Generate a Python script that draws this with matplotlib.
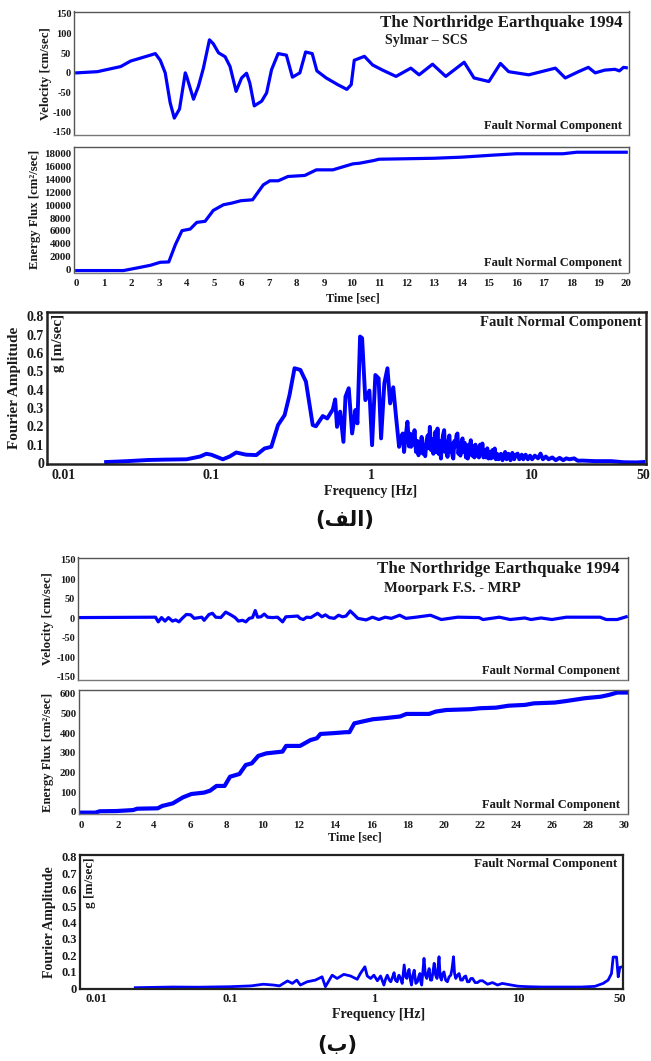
import matplotlib
matplotlib.use('Agg')
import matplotlib.pyplot as plt
from matplotlib.ticker import FixedLocator, NullLocator, FixedFormatter

plt.rcParams['axes.unicode_minus'] = False

# ---------------- data: (a) Sylmar - SCS ----------------
vel_a_t = [0.0, 0.75, 1.6, 1.96, 2.68, 2.86, 3.04, 3.22, 3.4, 3.55, 3.74, 3.95, 4.0, 4.25, 4.43,
           4.61, 4.83, 4.97, 5.16, 5.4, 5.58, 5.8, 6.0, 6.18, 6.3, 6.46, 6.73, 6.91, 7.09, 7.33,
           7.63, 7.85, 8.12, 8.33, 8.57, 8.74, 9.08, 9.5, 9.83, 9.99, 10.1, 10.47, 10.77, 11.13,
           11.62, 12.16, 12.46, 12.95, 13.43, 14.1, 14.46, 15.0, 15.42, 15.72, 16.45, 17.42,
           17.78, 18.26, 18.62, 18.87, 19.22, 19.59, 19.75, 19.9, 20.0]
vel_a_v = [0, 3, 16, 30, 45, 49, 32, 0, -76, -115, -92, 0, -9, -67, -34,
           12, 84, 74, 51, 41, 16, -47, -13, -1, -26, -84, -72, -51, 8, 49,
           45, -11, 0, 53, 49, 5, -13, -30, -42, -30, 32, 42, 20, 7,
           -9, 12, -5, 22, -9, 27, -13, -22, 24, 3, -5, 12,
           -13, 3, 14, 0, 7, 9, 5, 14, 13]

en_a_t = [0.0, 1.7, 2.2, 2.68, 3.04, 3.35, 3.59, 3.83, 4.13, 4.37, 4.67, 4.97, 5.34, 5.64, 5.97,
          6.4, 6.79, 7.03, 7.33, 7.69, 8.3, 8.72, 9.32, 10.05, 10.29, 10.8, 11.0, 13.0, 14.0,
          15.2, 16.0, 17.7, 18.2, 20.0]
en_a_v = [-150, -150, 260, 670, 1140, 1190, 3880, 6050, 6300, 7340, 7500, 9200, 10080, 10330, 10700,
          10850, 13170, 13800, 13800, 14470, 14630, 15500, 15500, 16430, 16530, 16940, 17150, 17300, 17470,
          17800, 18000, 18000, 18240, 18240]

four_a_f = [0.022, 0.03, 0.04, 0.05, 0.07, 0.085, 0.093, 0.1, 0.118, 0.13, 0.143, 0.165, 0.191,
            0.215, 0.237, 0.261, 0.287, 0.308, 0.331, 0.36, 0.39, 0.43, 0.45, 0.497, 0.53, 0.574,
            0.594, 0.61, 0.638, 0.669, 0.689, 0.722, 0.758, 0.795, 0.818, 0.85, 0.875, 0.917,
            0.972, 1.01, 1.059, 1.11, 1.15, 1.205, 1.26, 1.31, 1.37, 1.426,
            1.49, 1.53, 1.57, 1.6, 1.64, 1.68, 1.72, 1.75, 1.77, 1.8, 1.83, 1.86, 1.9, 1.94,
            1.97, 2.0, 2.03, 2.06, 2.1, 2.13, 2.17, 2.21, 2.25, 2.28, 2.32, 2.36, 2.4, 2.44,
            2.47, 2.51, 2.55, 2.59, 2.63, 2.67, 2.72, 2.76, 2.8, 2.85, 2.89, 2.93, 2.99, 3.03,
            3.07, 3.12, 3.17, 3.21, 3.25, 3.3, 3.35, 3.4, 3.45, 3.5, 3.55, 3.6, 3.65, 3.71,
            3.77, 3.83, 3.9, 3.95, 4.0, 4.06, 4.12, 4.18, 4.25, 4.32, 4.4, 4.47, 4.55, 4.62,
            4.7, 4.78, 4.86, 4.94, 5.02, 5.1, 5.2, 5.3, 5.4, 5.5, 5.6, 5.7, 5.8, 5.9,
            6.0, 6.1, 6.25, 6.45, 6.6, 6.85, 7.0, 7.2, 7.4, 7.6, 7.8, 8.0, 8.2, 8.4,
            8.7, 8.9, 9.2, 9.5, 9.8, 10.1, 10.5, 11.0, 11.4, 11.8, 12.3, 12.8, 13.5, 14.2,
            15.0, 15.8, 16.5, 17.3, 18.5, 19.5, 20.7, 25.0, 31.5, 37.7, 45.0, 50.0]
four_a_a = [0.005, 0.01, 0.016, 0.018, 0.02, 0.035, 0.05, 0.045, 0.02, 0.035, 0.057, 0.045, 0.043,
            0.079, 0.088, 0.207, 0.261, 0.371, 0.517, 0.508, 0.444, 0.207, 0.2, 0.256, 0.243, 0.292,
            0.347, 0.197, 0.28, 0.115, 0.362, 0.408, 0.161, 0.289, 0.216, 0.69, 0.681, 0.343,
            0.395, 0.097, 0.48, 0.462, 0.134, 0.435, 0.517, 0.325, 0.413, 0.252,
            0.088, 0.14, 0.161, 0.06, 0.15, 0.225, 0.09, 0.16, 0.088, 0.15, 0.1, 0.179, 0.06, 0.12,
            0.042, 0.11, 0.07, 0.142, 0.05, 0.1, 0.037, 0.12, 0.15, 0.08, 0.197, 0.07, 0.13, 0.05,
            0.09, 0.17, 0.06, 0.188, 0.05, 0.12, 0.024, 0.1, 0.15, 0.179, 0.06, 0.11, 0.033, 0.12,
            0.15, 0.06, 0.1, 0.04, 0.024, 0.12, 0.09, 0.15, 0.161, 0.05, 0.1, 0.04, 0.11, 0.134,
            0.06, 0.11, 0.03, 0.08, 0.024, 0.1, 0.07, 0.124, 0.04, 0.09, 0.03, 0.1, 0.04, 0.08,
            0.03, 0.1, 0.05, 0.106, 0.03, 0.07, 0.03, 0.08, 0.024, 0.06, 0.025, 0.07, 0.03, 0.079,
            0.02, 0.05, 0.02, 0.05, 0.015, 0.06, 0.02, 0.05, 0.015, 0.055, 0.02, 0.045, 0.051, 0.02,
            0.045, 0.02, 0.045, 0.02, 0.04, 0.02, 0.04, 0.025, 0.051, 0.02, 0.035, 0.02, 0.03, 0.015,
            0.028, 0.015, 0.025, 0.02, 0.025, 0.012, 0.013, 0.01, 0.01, 0.004, 0.003, 0.005]

# ---------------- data: (b) Moorpark F.S. - MRP ----------------
vel_b_t = [-0.1, 4.13, 4.28, 4.46, 4.65, 4.84, 5.06, 5.24, 5.42, 5.6, 5.83, 6.07, 6.26, 6.68, 6.81,
           7.08, 7.27, 7.45, 7.73, 8.0, 8.28, 8.52, 8.7, 8.93, 9.11, 9.3, 9.48, 9.63, 9.76, 9.94,
           10.13, 10.31, 10.59, 10.86, 11.14, 11.32, 11.69, 11.97, 12.1, 12.28, 12.47, 12.7, 13.07,
           13.31, 13.5, 13.72, 13.99, 14.23, 14.45, 14.64, 14.87, 15.05, 15.29, 15.75, 16.1, 16.45,
           16.8, 17.14, 17.6, 17.94, 18.5, 19.3, 19.9, 20.8, 21.98, 22.2, 23.1, 23.7, 24.5, 24.85,
           25.4, 26.0, 26.8, 27.7, 28.66, 29.0, 29.6, 30.1]
vel_b_v = [2, 3, -9, 2, -7, 2, -7, -4, -9, 0, 10, 9, 0, 3, -5,
           10, 13, 3, 2, 16, 9, 2, -7, -5, -9, 0, 2, 20, 3, 4,
           11, 3, 2, 3, -9, 4, 5, 6, 0, -3, 3, 2, 13,
           4, 9, 2, 0, 8, 4, 6, 19, 11, 0, -4, 3, -3,
           3, 0, 8, 0, 3, 8, -3, 3, 2, -3, 3, -3, 1, -3,
           1, -3, 3, 3, 3, -3, -3, 4]

en_b_t = [-0.16, 0.76, 1.0, 1.9, 2.84, 3.07, 4.2, 4.45, 5.03, 5.6, 6.07, 6.76, 7.1, 7.45, 7.9,
          8.2, 8.72, 9.07, 9.4, 9.76, 10.2, 11.1, 11.3, 12.07, 12.65, 13.0, 13.2, 13.9, 14.6,
          14.8, 15.07, 15.5, 16.1, 16.7, 17.6, 17.95, 19.2, 19.57, 20.15, 21.5, 22.0, 22.9,
          23.6, 24.5, 25.0, 26.15, 26.8, 27.8, 28.7, 29.15, 29.6, 30.1]
en_b_v = [-5, -5, 2, 3, 8, 15, 17, 29, 42, 73, 90, 97, 107, 131, 131,
          178, 192, 238, 246, 284, 297, 306, 335, 335, 365, 374, 396, 400, 405,
          405, 450, 459, 471, 476, 485, 498, 498, 510, 518, 522, 527, 530,
          540, 544, 552, 556, 564, 578, 586, 595, 607, 607]

four_b_f = [0.022, 0.04, 0.06, 0.1, 0.14, 0.17, 0.2, 0.22, 0.25, 0.27, 0.29, 0.307, 0.342, 0.39,
            0.434, 0.458, 0.51, 0.552, 0.614, 0.684, 0.761, 0.8, 0.86, 0.893, 0.942, 0.993, 1.05,
            1.105, 1.165, 1.2, 1.23, 1.27, 1.3, 1.34, 1.37, 1.4, 1.44, 1.48, 1.52, 1.56, 1.61,
            1.65, 1.68, 1.71, 1.74, 1.78, 1.81, 1.85, 1.89, 1.94, 1.99, 2.03, 2.07, 2.1, 2.13,
            2.17, 2.21, 2.26, 2.31, 2.35, 2.4, 2.45, 2.5, 2.55, 2.6, 2.66, 2.72, 2.76, 2.81,
            2.86, 2.92, 2.98, 3.04, 3.12, 3.21, 3.3, 3.39, 3.46, 3.54, 3.6, 3.67, 3.77, 3.87,
            3.97, 4.08, 4.2, 4.3, 4.42, 4.54, 4.67, 4.8, 5.0, 5.19, 5.4, 5.63, 6.1, 6.6, 7.15,
            7.7, 8.4, 9.9, 11.6, 14.4, 19.8, 27.3, 33.8, 38.6, 41.8, 44.1, 45.3, 47.8, 49.1,
            50.4, 51.8]
four_b_a = [0.004, 0.008, 0.007, 0.01, 0.015, 0.025, 0.02, 0.015, 0.045, 0.03, 0.05, 0.02, 0.04, 0.05,
            0.07, 0.01, 0.08, 0.06, 0.085, 0.075, 0.055, 0.09, 0.131, 0.075, 0.06, 0.08, 0.046,
            0.075, 0.02, 0.06, 0.08, 0.05, 0.04, 0.07, 0.095, 0.05, 0.04, 0.08, 0.06, 0.03, 0.142,
            0.07, 0.06, 0.09, 0.115, 0.05, 0.02, 0.08, 0.11, 0.03, 0.04, 0.07, 0.09, 0.04, 0.02,
            0.1, 0.182, 0.08, 0.06, 0.09, 0.12, 0.05, 0.05, 0.1, 0.152, 0.08, 0.06, 0.12, 0.192,
            0.07, 0.05, 0.09, 0.1, 0.05, 0.04, 0.07, 0.08, 0.12, 0.192, 0.09, 0.06, 0.08, 0.09,
            0.05, 0.05, 0.07, 0.075, 0.04, 0.04, 0.06, 0.06, 0.035, 0.035, 0.046, 0.046, 0.025, 0.035, 0.02,
            0.03, 0.024, 0.013, 0.01, 0.008, 0.008, 0.008, 0.012, 0.03, 0.05, 0.09, 0.19, 0.19, 0.07,
            0.127, 0.13]

# ---------------- tick labels ----------------
vel_ticks = [-150, -100, -50, 0, 50, 100, 150]
en_a_ticks = list(range(0, 18001, 2000))
en_b_ticks = [0, 100, 200, 300, 400, 500, 600]
time_a_ticks = list(range(0, 21))
time_b_ticks = list(range(0, 31, 2))
amp_ticks = [0, 0.1, 0.2, 0.3, 0.4, 0.5, 0.6, 0.7, 0.8]
amp_labels = ['0', '0.1', '0.2', '0.3', '0.4', '0.5', '0.6', '0.7', '0.8']
freq_ticks = [0.01, 0.1, 1, 10, 50]
freq_labels = ['0.01', '0.1', '1', '10', '50']

title_txt = 'The Northridge Earthquake 1994'
station_a = 'Sylmar \u2013 SCS'
station_b = 'Moorpark F.S. - MRP'
comp_txt = 'Fault Normal Component'
label_a = '(\uFED2\uFEDF\uFE8D)'   # (الف) written in visual presentation forms
label_b = '(\uFE8F)'               # (ب)

# ---------------- layout ----------------
W, H = 651, 1061
fig = plt.figure(figsize=(W / 100, H / 100), dpi=100)
SERIF = ['Liberation Serif', 'DejaVu Serif']
TXT = '#1a1a1a'
BLUE = '#0000ff'


def rect(x0, x1, y0, y1):
    return [x0 / W, 1 - y1 / H, (x1 - x0) / W, (y1 - y0) / H]


def style(ax, tick_fs, frame='#555555', flw=1.0, dashed_bottom=False):
    for s in ax.spines.values():
        s.set_color(frame)
        s.set_linewidth(flw)
    if dashed_bottom:
        ax.spines['bottom'].set_linestyle((0, (3, 1)))
        ax.spines['bottom'].set_color('#777777')
    ax.tick_params(axis='both', length=0, pad=2, labelsize=tick_fs, labelcolor=TXT)
    for lab in ax.get_xticklabels() + ax.get_yticklabels():
        lab.set_fontfamily(SERIF)
        lab.set_fontweight('bold')


def serif_text(ax, x, y, s, fs, **kw):
    ax.text(x, y, s, transform=ax.transAxes, fontsize=fs, fontweight='bold',
            family=SERIF, color=TXT, **kw)


def ylab(ax, s, fs, xc):
    ax.set_ylabel(s, fontsize=fs, fontweight='bold', family=SERIF, color=TXT)
    ax.yaxis.set_label_coords(xc, 0.5)


def xlab(ax, s, fs, xc, yc):
    ax.set_xlabel(s, fontsize=fs, fontweight='bold', family=SERIF, color=TXT)
    ax.xaxis.set_label_coords(xc, yc)


# Panel 1: velocity (a)
ax1 = fig.add_axes(rect(74, 629, 11.5, 135))
ax1.plot(vel_a_t, vel_a_v, color=BLUE, lw=2.3)
ax1.set_xlim(-0.1, 20.1)
ax1.set_ylim(-158, 156)
ax1.yaxis.set_major_locator(FixedLocator(vel_ticks))
ax1.xaxis.set_major_locator(NullLocator())
style(ax1, 7.5, dashed_bottom=True)
ylab(ax1, 'Velocity [cm/sec]', 9.3, -0.040)
serif_text(ax1, 0.988, 0.975, title_txt, 12.2, ha='right', va='top')
serif_text(ax1, 0.56, 0.815, station_a, 10, ha='left', va='top')
serif_text(ax1, 0.988, 0.025, comp_txt, 9, ha='right', va='bottom')

# Panel 2: energy flux (a)
ax2 = fig.add_axes(rect(74, 629, 147, 272.5))
ax2.plot(en_a_t, en_a_v, color=BLUE, lw=2.3)
ax2.set_xlim(-0.1, 20.1)
ax2.set_ylim(-450, 19050)
ax2.yaxis.set_major_locator(FixedLocator(en_a_ticks))
ax2.xaxis.set_major_locator(FixedLocator(time_a_ticks))
style(ax2, 7.8, dashed_bottom=True)
ax2.tick_params(axis='x', pad=5)
ylab(ax2, 'Energy Flux [cm\u00b2/sec]', 9.2, -0.060)
xlab(ax2, 'Time [sec]', 8.8, 0.503, -0.16)
serif_text(ax2, 0.988, 0.025, comp_txt, 9, ha='right', va='bottom')

# Panel 3: Fourier amplitude (a)
ax3 = fig.add_axes(rect(47, 646, 312, 463.5))
ax3.plot(four_a_f, four_a_a, color=BLUE, lw=2.8)
ax3.set_xscale('log')
ax3.set_xlim(0.0094, 52)
ax3.set_ylim(-0.003, 0.824)
ax3.xaxis.set_major_locator(FixedLocator(freq_ticks))
ax3.xaxis.set_major_formatter(FixedFormatter(freq_labels))
ax3.xaxis.set_minor_locator(NullLocator())
ax3.yaxis.set_major_locator(FixedLocator(amp_ticks))
ax3.yaxis.set_major_formatter(FixedFormatter(amp_labels))
style(ax3, 10, frame='#222222', flw=1.8)
ax3.tick_params(axis='x', pad=4)
ax3.get_xticklabels()[0].set_horizontalalignment('left')
ylab(ax3, 'Fourier Amplitude', 11, -0.043)
xlab(ax3, 'Frequency [Hz]', 10, 0.541, -0.14)
serif_text(ax3, 0.008, 0.985, 'g [m/sec]', 11, ha='left', va='top', rotation=90)
serif_text(ax3, 0.993, 0.975, comp_txt, 10.5, ha='right', va='top')
fig.text(345 / W, 1 - 520 / H, label_a, fontsize=15, fontweight='bold',
         family=['DejaVu Sans'], color='#111111', ha='center', va='center')

# Panel 4: velocity (b)
ax4 = fig.add_axes(rect(78, 628, 557.5, 680))
ax4.plot(vel_b_t, vel_b_v, color=BLUE, lw=2.3)
ax4.set_xlim(-0.15, 30.2)
ax4.set_ylim(-158, 156)
ax4.yaxis.set_major_locator(FixedLocator(vel_ticks))
ax4.xaxis.set_major_locator(NullLocator())
style(ax4, 7.5, dashed_bottom=True)
ylab(ax4, 'Velocity [cm/sec]', 9.3, -0.044)
serif_text(ax4, 0.985, 0.975, title_txt, 12.2, ha='right', va='top')
serif_text(ax4, 0.556, 0.80, station_b, 10.5, ha='left', va='top')
serif_text(ax4, 0.985, 0.025, comp_txt, 9, ha='right', va='bottom')

# Panel 5: energy flux (b)
ax5 = fig.add_axes(rect(79, 628, 690, 814))
ax5.plot(en_b_t, en_b_v, color=BLUE, lw=3.0)
ax5.set_xlim(-0.15, 30.2)
ax5.set_ylim(-12, 620)
ax5.yaxis.set_major_locator(FixedLocator(en_b_ticks))
ax5.xaxis.set_major_locator(FixedLocator(time_b_ticks))
style(ax5, 7.8, dashed_bottom=True)
ax5.tick_params(axis='x', pad=5)
ylab(ax5, 'Energy Flux [cm\u00b2/sec]', 9.2, -0.046)
xlab(ax5, 'Time [sec]', 8.8, 0.503, -0.145)
serif_text(ax5, 0.985, 0.025, comp_txt, 9, ha='right', va='bottom')

# Panel 6: Fourier amplitude (b)
ax6 = fig.add_axes(rect(80, 623, 855, 989))
ax6.plot(four_b_f, four_b_a, color=BLUE, lw=2.0)
ax6.set_xscale('log')
ax6.set_xlim(0.0091, 53)
ax6.set_ylim(-0.004, 0.81)
ax6.xaxis.set_major_locator(FixedLocator(freq_ticks))
ax6.xaxis.set_major_formatter(FixedFormatter(freq_labels))
ax6.xaxis.set_minor_locator(NullLocator())
ax6.yaxis.set_major_locator(FixedLocator(amp_ticks))
ax6.yaxis.set_major_formatter(FixedFormatter(amp_labels))
style(ax6, 9, frame='#222222', flw=1.6)
ax6.tick_params(axis='x', pad=3)
ax6.get_xticklabels()[0].set_horizontalalignment('left')
ylab(ax6, 'Fourier Amplitude', 10, -0.044)
xlab(ax6, 'Frequency [Hz]', 10, 0.549, -0.14)
serif_text(ax6, 0.008, 0.985, 'g [m/sec]', 9.5, ha='left', va='top', rotation=90)
serif_text(ax6, 0.99, 0.975, comp_txt, 9.4, ha='right', va='top')
fig.text(337 / W, 1 - 1045 / H, label_b, fontsize=15, fontweight='bold',
         family=['DejaVu Sans'], color='#111111', ha='center', va='center')

fig.savefig('out.png', dpi=100, facecolor='white')
